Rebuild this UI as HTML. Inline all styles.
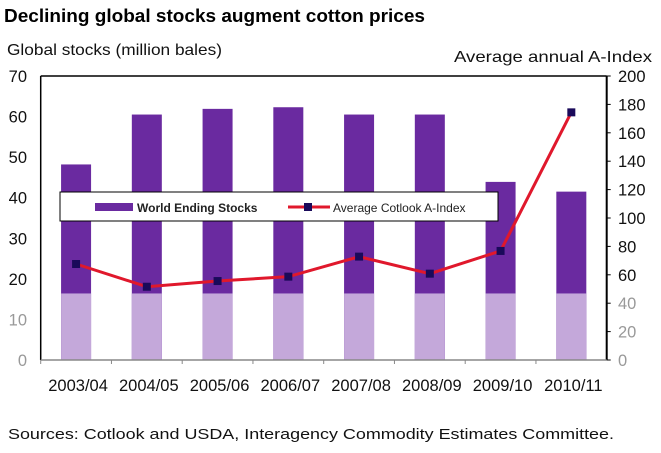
<!DOCTYPE html>
<html><head><meta charset="utf-8"><style>
body{margin:0;background:#fff;width:661px;height:448px;overflow:hidden;font-family:"Liberation Sans",Arial,sans-serif}
</style></head><body>
<svg id="c" width="661" height="448" xmlns="http://www.w3.org/2000/svg">
<text x="4" y="22" font-size="18" font-weight="bold" fill="#000" textLength="421" lengthAdjust="spacingAndGlyphs">Declining global stocks augment cotton prices</text>
<text x="7" y="55" font-size="16" fill="#111" textLength="215" lengthAdjust="spacingAndGlyphs">Global stocks (million bales)</text>
<text x="454" y="62" font-size="16" fill="#111" textLength="198" lengthAdjust="spacingAndGlyphs">Average annual A-Index</text>
<text x="8" y="439" font-size="15" fill="#111" textLength="606" lengthAdjust="spacingAndGlyphs">Sources: Cotlook and USDA, Interagency Commodity Estimates Committee.</text>
<g id="plot"></g>
</svg>
<script>
const categories=["2003/04","2004/05","2005/06","2006/07","2007/08","2008/09","2009/10","2010/11"];
const stocks=[48.2,60.5,61.9,62.3,60.5,60.5,43.9,41.5];
const aindex=[67.6,51.6,55.6,58.7,72.8,60.8,76.8,174.4];
const leftTicks=[0,10,20,30,40,50,60,70];
const rightTicks=[0,20,40,60,80,100,120,140,160,180,200];
const L=40.7,R=606.7,T=76,B=360;
const yL=v=>B-(v/70)*(B-T);
const yR=v=>B-(v/200)*(B-T);
const cw=(R-L)/categories.length;
const xC=i=>L+cw*(i+0.5);
const NS="http://www.w3.org/2000/svg";
const g=document.getElementById('plot');
function mk(t,a,p){const e=document.createElementNS(NS,t);for(const k in a)e.setAttribute(k,a[k]);(p||g).appendChild(e);return e;}
stocks.forEach((v,i)=>{
 const b=mk('rect',{x:xC(i)-15,y:yL(v),width:30,height:B-yL(v),fill:'#6a2aa0'});
 
 
});
stocks.forEach((v,i)=>{
 const b=mk('rect',{x:xC(i)-15,y:yL(Math.min(v,16.4)),width:30,height:B-yL(Math.min(v,16.4)),fill:'#c4a8da'});
 
 
});
mk('line',{x1:L,y1:T,x2:R,y2:T,stroke:'#000','stroke-width':1.5});
mk('line',{x1:L,y1:T,x2:L,y2:B,stroke:'#000','stroke-width':1.5});
mk('line',{x1:R,y1:T,x2:R,y2:B,stroke:'#000','stroke-width':2});
mk('line',{x1:L,y1:B,x2:R,y2:B,stroke:'#888','stroke-width':1.5});
categories.forEach((c,i)=>{
 mk('line',{x1:L+cw*i,y1:B,x2:L+cw*i,y2:B+4,stroke:'#888'});
 const t=mk('text',{x:xC(i)+2,y:B+31,'font-size':16.5,'text-anchor':'middle',fill:'#111'});t.textContent=c;
 
 
});
leftTicks.forEach(v=>{
 const t=mk('text',{x:27,y:yL(v)+6,'font-size':16.5,'text-anchor':'end',fill:v<=10?'#999':'#111'});t.textContent=v;
 
 
});
rightTicks.forEach(v=>{
 mk('line',{x1:R,y1:yR(v),x2:R+4,y2:yR(v),stroke:'#000'});
 const t=mk('text',{x:618,y:yR(v)+6,'font-size':16.5,fill:v<=40?'#999':'#111'});t.textContent=v;
 
 
});
const pts=aindex.map((v,i)=>xC(i)+','+yR(v)).join(' ');
const ln=mk('polyline',{points:pts,fill:'none',stroke:'#e0182c','stroke-width':3});


aindex.forEach((v,i)=>{
 const m=mk('rect',{x:xC(i)-4,y:yR(v)-4,width:8,height:8,fill:'#1a0a5a'});
 
 
});
const lg=mk('g',{});


mk('rect',{x:60,y:192,width:438,height:29,fill:'#fff',stroke:'#000','stroke-width':1},lg);
mk('rect',{x:95,y:203,width:38,height:8,fill:'#6a2aa0'},lg);
let t=mk('text',{x:137,y:212,'font-size':12,'font-weight':'bold',fill:'#222'},lg);t.textContent='World Ending Stocks';
mk('line',{x1:288,y1:207,x2:330,y2:207,stroke:'#e0182c','stroke-width':3},lg);
mk('rect',{x:304,y:203,width:8,height:8,fill:'#1a0a5a'},lg);
t=mk('text',{x:333,y:212,'font-size':12,fill:'#222'},lg);t.textContent='Average Cotlook A-Index';
</script>
</body></html>
